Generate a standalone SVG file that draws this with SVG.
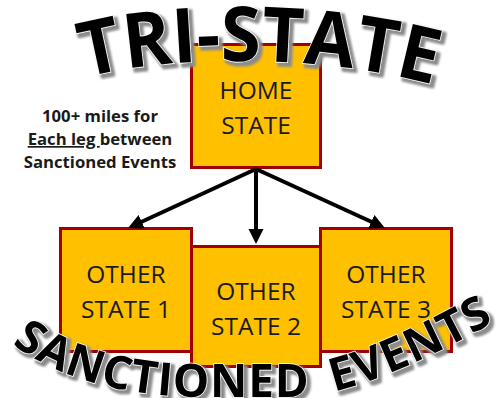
<svg xmlns="http://www.w3.org/2000/svg" width="499" height="398" viewBox="0 0 499 398">
<style>
.box{fill:#FFC000;stroke:#A00000;stroke-width:3}
.lbl{font-family:"Open Sans","Noto Sans",sans-serif;font-size:24.5px;fill:#1a1a1a;text-anchor:middle}
.note{font-family:"Open Sans","Noto Sans",sans-serif;font-size:16.7px;font-weight:700;fill:#1a1a1a;text-anchor:middle}
.title{font-family:"Open Sans","Noto Sans",sans-serif;font-weight:700;fill:#000;stroke:#fff;stroke-width:1.5;paint-order:stroke}
.conn{stroke:#000;stroke-width:4;fill:none;marker-end:url(#ah)}
</style>
<defs>
<marker id="ah" markerUnits="userSpaceOnUse" markerWidth="16" markerHeight="16" viewBox="0 0 16 16" refX="3" refY="8" orient="auto">
<path d="M0,0.5 L15,8 L0,15.5 z" fill="#000"/>
</marker>
<filter id="sh" x="-10%" y="-20%" width="125%" height="150%">
<feMorphology in="SourceAlpha" operator="dilate" radius="1.2" result="d"/>
<feOffset in="d" dx="2.5" dy="3" result="o"/>
<feGaussianBlur in="o" stdDeviation="1.2" result="b"/>
<feFlood flood-color="#8c8c8c"/>
<feComposite in2="b" operator="in" result="s"/>
<feMerge><feMergeNode in="s"/><feMergeNode in="SourceGraphic"/></feMerge>
</filter>
<path id="arcTop" d="M85,78 C150,58 310,50 437,86"/>
<path id="arcBot" d="M12,344 C60,378 120,396 200,397 L300,397 C350,395 430,360 520,307"/>
</defs>

<g id="home-state">
<rect class="box" x="191.5" y="44.5" width="129" height="123"/>
<text class="lbl" x="256" y="99">HOME</text>
<text class="lbl" x="256" y="134">STATE</text>
</g>

<g id="other-state-2">
<rect class="box" x="191.5" y="246.5" width="129" height="120"/>
<text class="lbl" x="256" y="300">OTHER</text>
<text class="lbl" x="256" y="335">STATE 2</text>
</g>

<g id="other-state-1">
<rect class="box" x="60.5" y="228.5" width="131" height="123"/>
<text class="lbl" x="126" y="283">OTHER</text>
<text class="lbl" x="126" y="318">STATE 1</text>
</g>

<g id="other-state-3">
<rect class="box" x="320.5" y="228.5" width="131" height="123"/>
<text class="lbl" x="386" y="283">OTHER</text>
<text class="lbl" x="386" y="318">STATE 3</text>
</g>

<g id="connectors">
<line class="conn" x1="256" y1="169" x2="139" y2="223"/>
<line class="conn" x1="256" y1="169" x2="256" y2="232"/>
<line class="conn" x1="256" y1="169" x2="374" y2="223"/>
</g>

<g id="note">
<text class="note" x="100" y="122">100+ miles for</text>
<text class="note" x="100" y="145"><tspan text-decoration="underline">Each leg </tspan>between</text>
<text class="note" x="100" y="168">Sanctioned Events</text>
</g>

<g id="title-top" filter="url(#sh)">
<text class="title" font-size="76"><textPath href="#arcTop" textLength="352" lengthAdjust="spacingAndGlyphs">TRI-STATE</textPath></text>
</g>

<g id="title-bottom" filter="url(#sh)">
<text class="title" font-size="46" word-spacing="12"><textPath href="#arcBot" textLength="508" lengthAdjust="spacing">SANCTIONED EVENTS</textPath></text>
</g>
</svg>
